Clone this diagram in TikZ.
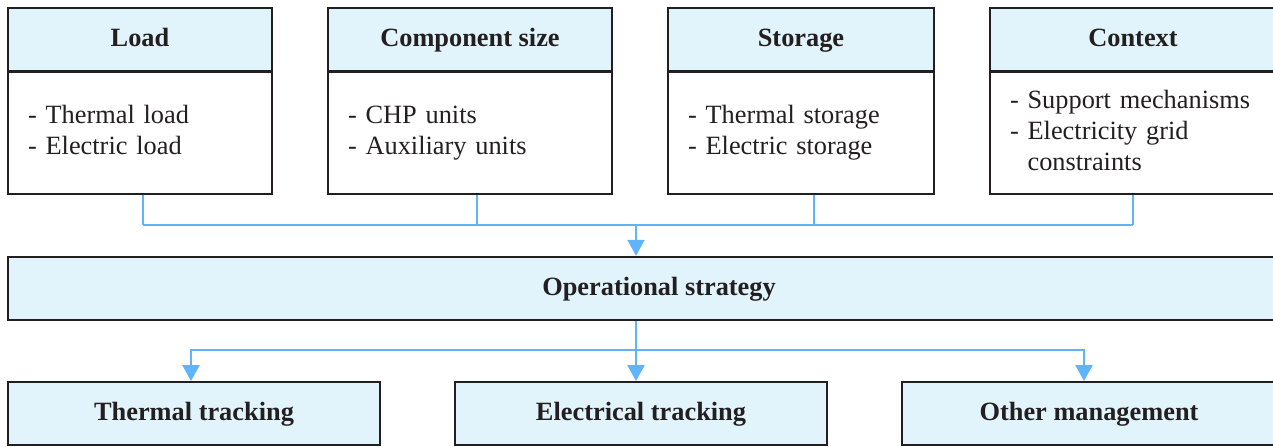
\documentclass[tikz,border=0pt]{standalone}
\usepackage{fontspec}
\setmainfont{Liberation Serif}
\usetikzlibrary{arrows.meta}

\definecolor{caixa}{RGB}{225,244,252}
\definecolor{azul}{RGB}{95,180,250}
\definecolor{borda}{RGB}{35,31,32}

\tikzset{
	titulo/.style={draw=borda, text=borda, line width=1.1pt, fill=caixa, inner sep=0pt,
		minimum height=1.26cm, text height=2.35ex, text depth=0.6ex,
		font=\fontsize{15}{17}\selectfont\bfseries},
	lista/.style={draw=borda, text=borda, line width=1.1pt, fill=white, align=left,
		inner xsep=0.4cm, inner ysep=0pt, minimum height=2.44cm,
		font=\fontsize{15}{17.6}\selectfont},
	fino/.style={draw=azul, line width=0.6pt},
	ramo/.style={draw=azul, line width=1.1pt},
	seta/.style={draw=azul, line width=1.5pt, -{Triangle[width=0.34cm,length=0.32cm]}}
}

\begin{document}
\begin{tikzpicture}[x=0.02cm, y=-0.02cm]
	% Moldura da figura
	\useasboundingbox (0,0) rectangle (1273,446);
	\clip (0,0) rectangle (1273,446);
	
	% Caixas de cima: titulo e lista de itens
	\node[titulo, minimum width=5.28cm] (carga) at (140,39.5) {Load};
	\node[lista, minimum width=5.28cm, text width=4.48cm] (cargalista) at (140,133)
		{\strut- Thermal load\\\strut- Electric load};
	
	\node[titulo, minimum width=5.68cm] (componente) at (470,39.5) {Component size};
	\node[lista, minimum width=5.68cm, text width=4.88cm] (componentelista) at (470,133)
		{\strut- CHP units\\\strut- Auxiliary units};
	
	\node[titulo, minimum width=5.32cm] (armazenamento) at (801,39.5) {Storage};
	\node[lista, minimum width=5.32cm, text width=4.52cm] (armazenamentolista) at (801,133)
		{\strut- Thermal storage\\\strut- Electric storage};
	
	\node[titulo, minimum width=5.72cm] (contexto) at (1133,39.5) {Context};
	\node[lista, minimum width=5.72cm, text width=4.92cm] (contextolista) at (1133,133)
		{\strut- Support mechanisms\\\strut- Electricity grid\\\strut\hphantom{-}\ constraints};
	
	% Caixa central
	\node[titulo, minimum width=25.36cm, minimum height=1.27cm] (estrategia) at (642,288.5) {};
	\node[text=borda, text height=2.35ex, text depth=0.6ex, inner sep=0pt,
		font=\fontsize{15}{17}\selectfont\bfseries] (estrategiatexto) at (659,288.5)
		{Operational strategy};
	
	% Caixas de baixo
	\node[titulo, minimum width=7.44cm] (termico) at (194,413.5) {Thermal tracking};
	\node[titulo, minimum width=7.44cm] (eletrico) at (641,413.5) {Electrical tracking};
	\node[titulo, minimum width=7.48cm] (outro) at (1089,413.5) {Other management};
	
	% Ligacoes de cima para a caixa central
	\coordinate (juncao) at (636,225);
	\draw[fino] ([xshift=0.06cm]cargalista.south) -- ([xshift=0.06cm]cargalista.south |- juncao);
	\draw[fino] ([xshift=0.14cm]componentelista.south) -- ([xshift=0.14cm]componentelista.south |- juncao);
	\draw[fino] ([xshift=0.26cm]armazenamentolista.south) -- ([xshift=0.26cm]armazenamentolista.south |- juncao);
	\draw[fino] (contextolista.south) -- (contextolista.south |- juncao);
	\draw[ramo] ([xshift=0.06cm]cargalista.south |- juncao) -- (contextolista.south |- juncao);
	\draw[seta, line width=1.3pt] (juncao) -- (estrategia.north -| juncao);
	
	% Ligacoes da caixa central para baixo
	\coordinate (divisao) at (636,350);
	\draw[ramo, line width=1.5pt] (estrategia.south -| divisao) -- (divisao);
	\draw[seta] (divisao) -| ([xshift=-0.06cm]termico.north);
	\draw[seta] (divisao) -- (eletrico.north -| divisao);
	\draw[seta] (divisao) -| ([xshift=-0.1cm]outro.north);
\end{tikzpicture}
\end{document}
